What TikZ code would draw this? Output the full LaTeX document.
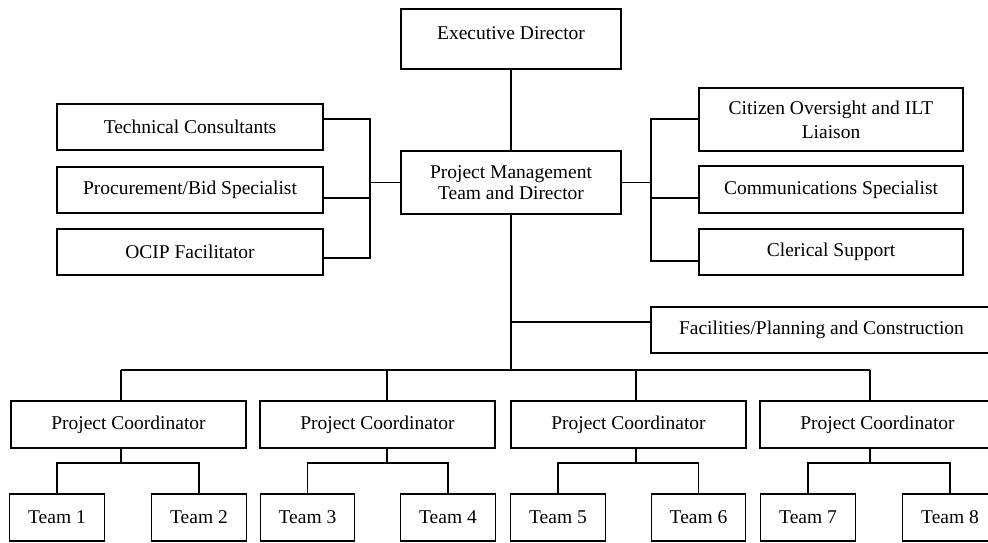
\documentclass[tikz,border=0pt]{standalone}
\usepackage{fontspec}
\setmainfont{Liberation Serif}
\begin{document}
\begin{tikzpicture}[x=1pt,y=-1pt,
  box/.style={draw=black, line width=1.3pt, rectangle, inner sep=0pt, align=center,
    font=\fontsize{19.5}{21}\selectfont},
  link/.style={draw=black, line width=1.3pt},
  pcbox/.style={box, minimum width=235pt, minimum height=47pt},
  teambox/.style={box, minimum width=94.5pt, minimum height=47pt},
  sidebox/.style={box, minimum width=266pt, minimum height=46pt}]
\fill[white] (0,0) rectangle (988,542);
\useasboundingbox (0,0) rectangle (988,542);

% top
\node[box, minimum width=220pt, minimum height=60pt] (ed) at (511,39) {\smash{Executive Director}};
\node[box, minimum width=220pt, minimum height=63pt] (pm) at (511,182.5) {Project Management\\Team and Director};

% left staff
\node[sidebox] (tech) at (190,127) {Technical Consultants};
\node[sidebox] (proc) at (190,190) {Procurement/Bid Specialist};
\node[sidebox] (ocip) at (190,252) {OCIP Facilitator};

% right staff
\node[box, minimum width=264pt, minimum height=63pt] (cit) at (831,119.5) {Citizen Oversight and ILT\\[3pt]Liaison};
\node[box, minimum width=264pt, minimum height=47pt] (comm) at (831,189.5) {Communications Specialist};
\node[box, minimum width=264pt, minimum height=46pt] (cler) at (831,252) {Clerical Support};

% facilities
\node[box, minimum width=341pt, minimum height=46pt] (fac) at (821.5,330) {Facilities/Planning and Construction};

% coordinators
\node[pcbox] (pc1) at (128.5,424.5) {Project Coordinator};
\node[pcbox] (pc2) at (377.5,424.5) {Project Coordinator};
\node[pcbox] (pc3) at (628.5,424.5) {Project Coordinator};
\node[pcbox] (pc4) at (877.5,424.5) {Project Coordinator};

% teams
\node[teambox] (t1) at (57,517.5) {Team 1};
\node[teambox] (t2) at (199,517.5) {Team 2};
\node[teambox] (t3) at (307.5,517.5) {Team 3};
\node[teambox] (t4) at (448,517.5) {Team 4};
\node[teambox] (t5) at (558,517.5) {Team 5};
\node[teambox] (t6) at (698.5,517.5) {Team 6};
\node[teambox] (t7) at (808,517.5) {Team 7};
\node[teambox] (t8) at (950,517.5) {Team 8};

% junction coordinates
\coordinate (lt) at (370,119);
\coordinate (lb) at (370,258);
\coordinate (rt) at (651,119);
\coordinate (rb) at (651,261);
\coordinate (bus) at (511,370);
\coordinate (d1) at (121,370);
\coordinate (d2) at (387,370);
\coordinate (d3) at (636,370);
\coordinate (d4) at (870,370);
\coordinate (b1) at (121,463);
\coordinate (b2) at (387,463);
\coordinate (b3) at (636,463);
\coordinate (b4) at (870,463);

% connectors
\draw[link] (ed) -- (pm);
\draw[link] ([yshift=8pt]tech.east) -- (lt) -- (lb) -- ([yshift=-6pt]ocip.east);
\draw[link] ([yshift=-8pt]proc.east) -- ([yshift=-8pt]proc.east -| lt);
\draw[link] (pm.west) -- (pm.west -| lt);
\draw[link] (cit.west |- rt) -- (rt) -- (rb) -- ([yshift=-9pt]cler.west);
\draw[link] ([yshift=-8.5pt]comm.west) -- ([yshift=-8.5pt]comm.west -| rt);
\draw[link] (pm.east) -- (pm.east -| rt);
\draw[link] (pm.south) -- (bus);
\draw[link] ([yshift=8pt]fac.west) -- ([yshift=8pt]fac.west -| bus);
\draw[link] (d1) -- (d4);
\draw[link] (d1) -- (d1 |- pc1.north);
\draw[link] (d2) -- (d2 |- pc2.north);
\draw[link] (d3) -- (d3 |- pc3.north);
\draw[link] (d4) -- (d4 |- pc4.north);
\draw[link] (pc1.south -| b1) -- (b1);
\draw[link] (pc2.south -| b2) -- (b2);
\draw[link] (pc3.south -| b3) -- (b3);
\draw[link] (pc4.south -| b4) -- (b4);
\draw[link] (t1.north) |- (b1) -| (t2.north);
\draw[link] (t3.north) |- (b2) -| (t4.north);
\draw[link] (t5.north) |- (b3) -| (t6.north);
\draw[link] (t7.north) |- (b4) -| (t8.north);
\end{tikzpicture}
\end{document}
